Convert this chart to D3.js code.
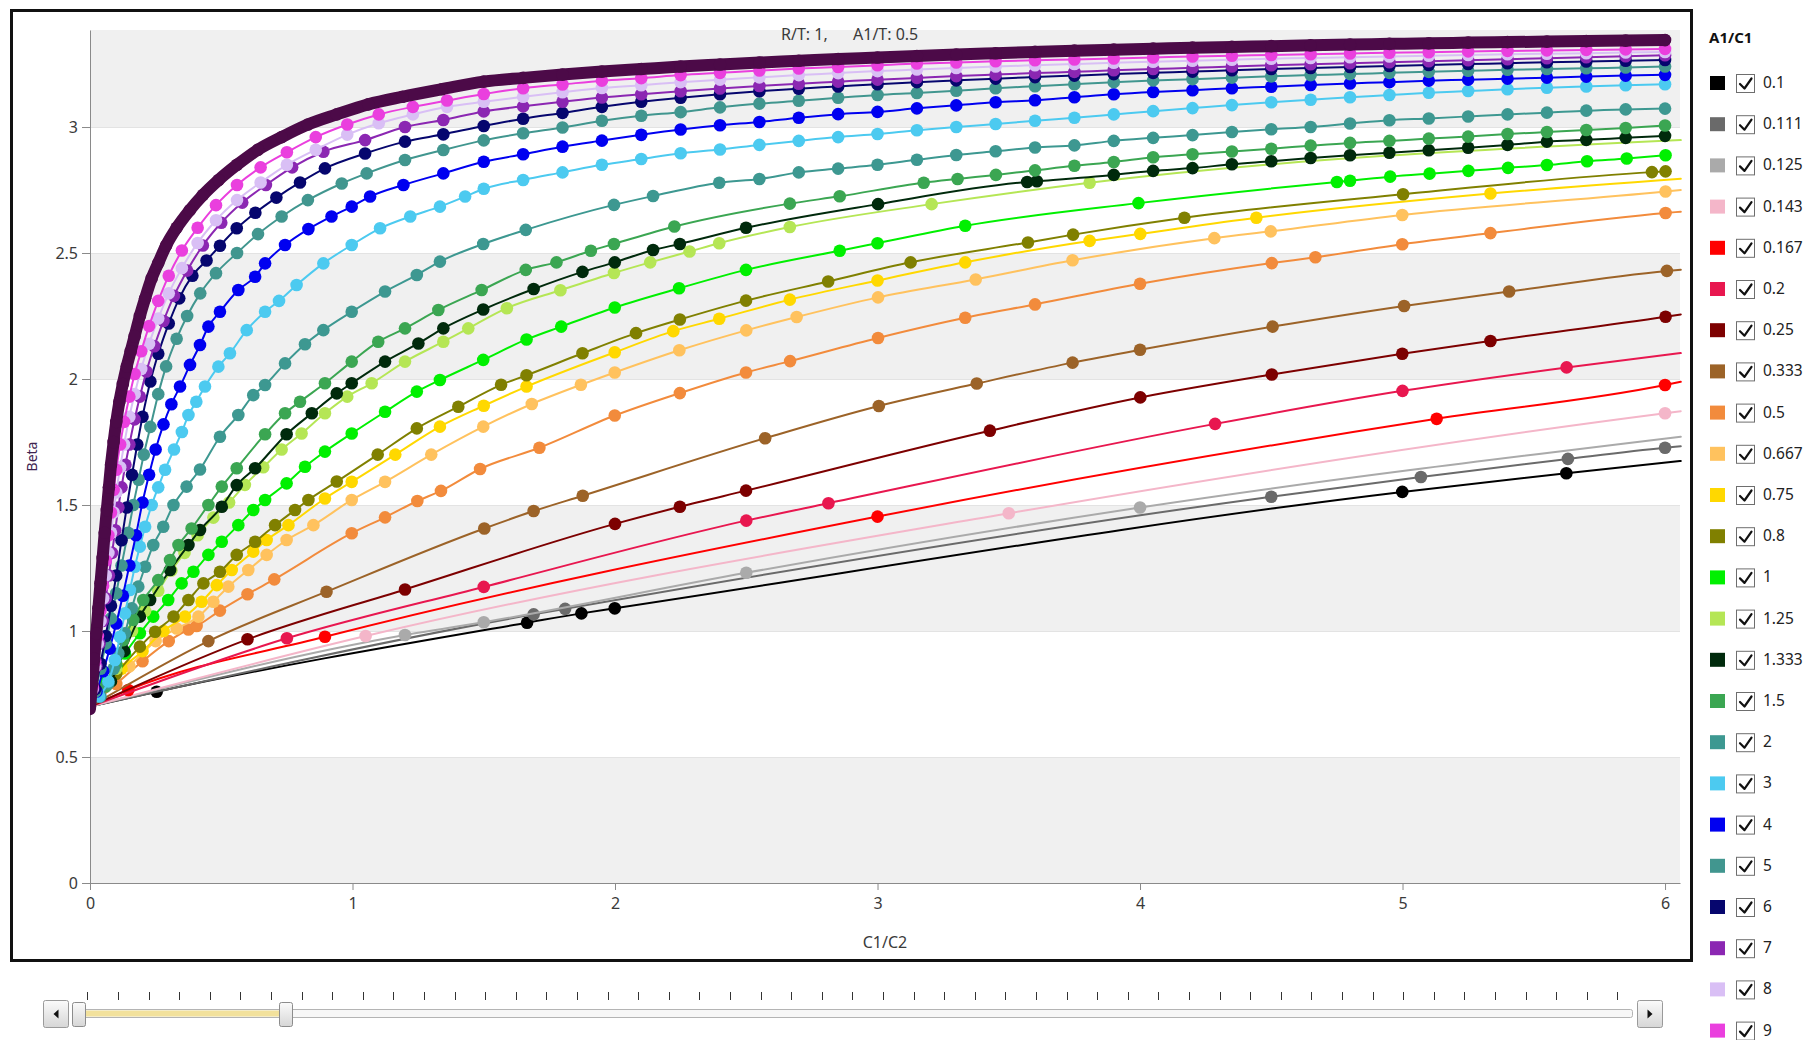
<!DOCTYPE html>
<html>
<head>
<meta charset="utf-8">
<script src="https://cdn.jsdelivr.net/npm/d3@7"></script>
<style>
  html, body { margin: 0; padding: 0; background: #ffffff; overflow: hidden; }
  svg { display: block; font-family: "Segoe UI", "Noto Sans", "Open Sans", sans-serif; }
</style>
</head>
<body>
<svg id="chart" width="1808" height="1040"></svg>
<script>
// ---- Series names (A1/C1) and colours ----
const categories = ["0.1","0.111","0.125","0.143","0.167","0.2","0.25","0.333","0.5","0.667","0.75","0.8",
                    "1","1.25","1.333","1.5","2","3","4","5","6","7","8","9","10"];
const colors = ["#000000","#6a6a6a","#aaaaaa","#f4b6c9","#ff0000","#e8174f","#7d0000","#9c6328","#f28b3c",
                "#ffc25e","#ffd800","#808000","#00f000","#b5e655","#002a0c","#3ba652","#3d9891","#4ccaf0",
                "#0000f0","#41968f","#06066e","#8b27b2","#d9bff5","#ea3fde","#4c0a48"];

// ---- Axis ticks ----
const xTicks = [0, 1, 2, 3, 4, 5, 6];
const yTicks = [0, 0.5, 1, 1.5, 2, 2.5, 3];
const shadedBands = [[0, 0.5], [1, 1.5], [2, 2.5], [3, 3.385]];

// ---- Beta against C1/C2, one array per A1/C1 value ----
const beta_0_1   = [[0,0.70],[0.254,0.759],[1.665,1.033],[1.872,1.07],[1.999,1.09],[4.999,1.552],[5.624,1.626],[6.06,1.675]];
const beta_0_111 = [[0,0.70],[1.69,1.066],[1.81,1.088],[4.5,1.533],[5.07,1.611],[5.63,1.683],[6.0,1.727],[6.06,1.733]];
const beta_0_125 = [[0,0.70],[1.2,0.984],[1.5,1.035],[2.5,1.231],[4.0,1.49],[6.06,1.771]];
const beta_0_143 = [[0,0.70],[1.05,0.98],[3.5,1.467],[6.0,1.864],[6.06,1.872]];
const beta_0_167 = [[0,0.70],[0.146,0.766],[0.895,0.977],[3.0,1.454],[5.13,1.842],[6.0,1.976],[6.06,1.989]];
const beta_0_2   = [[0,0.70],[0.75,0.971],[1.5,1.175],[2.5,1.438],[2.813,1.507],[4.286,1.822],[5.0,1.953],[5.625,2.046],[6.06,2.103]];
const beta_0_25  = [[0,0.70],[0.6,0.967],[1.2,1.165],[2.0,1.425],[2.247,1.493],[2.499,1.557],[3.428,1.795],[4.001,1.927],
                    [4.502,2.018],[4.999,2.1],[5.335,2.151],[6.002,2.247],[6.06,2.256]];
const beta_0_333 = [[0,0.70],[0.451,0.96],[0.901,1.156],[1.502,1.407],[1.69,1.476],[1.877,1.537],[2.572,1.765],[3.005,1.893],
                    [3.378,1.982],[3.743,2.065],[4.0,2.116],[4.505,2.208],[5.006,2.29],[5.406,2.347],[6.007,2.429],[6.06,2.434]];
const beta_0_5   = [[0,0.70],[0.1,0.79],[0.2,0.88],[0.3,0.96],[0.375,1.006],[0.406,1.02],[0.495,1.081],[0.6,1.146],[0.702,1.205],
                    [0.997,1.388],[1.124,1.451],[1.247,1.516],[1.337,1.556],[1.486,1.643],[1.712,1.727],[1.999,1.855],[2.247,1.944],
                    [2.499,2.026],[2.667,2.071],[3.002,2.163],[3.334,2.243],[3.6,2.296],[4.0,2.378],[4.502,2.46],[4.668,2.483],
                    [4.999,2.535],[5.335,2.579],[6.002,2.659],[6.06,2.664]];
const beta_0_667 = [[0,0.70],[0.15,0.86],[0.25,0.96],[0.33,1.01],[0.413,1.057],[0.47,1.116],[0.527,1.176],[0.603,1.242],
                    [0.673,1.302],[0.749,1.361],[0.851,1.42],[0.997,1.52],[1.124,1.592],[1.3,1.7],[1.498,1.811],[1.683,1.901],
                    [1.87,1.977],[1.999,2.026],[2.245,2.114],[2.5,2.193],[2.692,2.246],[3.002,2.324],[3.374,2.395],[3.743,2.471],
                    [4.283,2.559],[4.498,2.586],[4.999,2.651],[6.002,2.744],[6.06,2.75]];
const beta_0_75  = [[0,0.70],[0.12,0.85],[0.2,0.92],[0.28,1.0],[0.362,1.057],[0.425,1.116],[0.483,1.182],[0.54,1.242],
                    [0.622,1.315],[0.673,1.361],[0.756,1.42],[0.895,1.526],[0.997,1.592],[1.163,1.7],[1.333,1.811],[1.5,1.894],
                    [1.663,1.97],[1.999,2.106],[2.222,2.19],[2.397,2.239],[2.666,2.315],[3.0,2.391],[3.334,2.463],[3.808,2.548],
                    [4.001,2.576],[4.443,2.64],[5.335,2.736],[6.06,2.795]];
const beta_0_8   = [[0,0.70],[0.1,0.83],[0.19,0.938],[0.248,0.997],[0.318,1.057],[0.375,1.123],[0.432,1.189],[0.495,1.235],
                    [0.559,1.302],[0.629,1.354],[0.705,1.42],[0.781,1.48],[0.832,1.52],[0.94,1.593],[1.096,1.7],[1.245,1.804],
                    [1.403,1.89],[1.566,1.977],[1.663,2.015],[1.876,2.102],[2.08,2.182],[2.247,2.236],[2.499,2.311],[2.812,2.387],
                    [3.126,2.463],[3.573,2.542],[3.745,2.573],[4.169,2.64],[5.002,2.733],[5.95,2.821],[6.002,2.824]];
const beta_1     = [[0,0.70],[0.06,0.8],[0.1,0.86],[0.133,0.911],[0.19,0.991],[0.241,1.057],[0.298,1.123],[0.349,1.189],
                    [0.394,1.235],[0.451,1.302],[0.502,1.354],[0.565,1.42],[0.622,1.48],[0.667,1.52],[0.749,1.586],[0.819,1.652],
                    [0.895,1.712],[0.997,1.784],[1.124,1.87],[1.245,1.95],[1.333,1.996],[1.498,2.076],[1.663,2.157],[1.795,2.208],
                    [1.999,2.284],[2.244,2.36],[2.499,2.433],[2.856,2.509],[3.0,2.539],[3.334,2.608],[3.994,2.698],[4.75,2.782],
                    [4.8,2.787],[4.953,2.803],[5.103,2.815],[5.251,2.826],[5.402,2.838],[5.55,2.849],[5.703,2.864],[5.854,2.875],
                    [6.002,2.888]];
const beta_1_25  = [[0,0.70],[0.1,0.85],[0.16,1.0],[0.21,1.08],[0.26,1.16],[0.31,1.24],[0.36,1.31],[0.41,1.38],[0.47,1.45],
                    [0.53,1.51],[0.59,1.58],[0.66,1.65],[0.73,1.72],[0.806,1.784],[0.895,1.864],[0.98,1.93],[1.073,1.983],
                    [1.2,2.069],[1.346,2.148],[1.441,2.201],[1.588,2.281],[1.792,2.352],[1.996,2.421],[2.134,2.463],[2.284,2.506],
                    [2.397,2.539],[2.666,2.603],[3.206,2.694],[3.808,2.779],[6.06,2.948]];
const beta_1_333 = [[0,0.70],[0.08,0.8],[0.13,0.92],[0.19,1.057],[0.229,1.123],[0.305,1.242],[0.375,1.341],[0.419,1.401],
                    [0.502,1.493],[0.559,1.579],[0.629,1.646],[0.749,1.781],[0.845,1.864],[0.94,1.943],[0.997,1.983],[1.124,2.069],
                    [1.251,2.141],[1.346,2.201],[1.498,2.276],[1.69,2.357],[1.876,2.425],[1.999,2.463],[2.145,2.512],[2.247,2.536],
                    [2.499,2.6],[3.002,2.694],[3.57,2.782],[3.607,2.785],[3.9,2.81],[4.05,2.826],[4.2,2.837],[4.35,2.852],
                    [4.5,2.864],[4.65,2.877],[4.8,2.888],[4.95,2.898],[5.1,2.908],[5.25,2.918],[5.4,2.929],[5.55,2.942],
                    [5.7,2.949],[5.85,2.957],[6.0,2.965]];
const beta_1_5   = [[0,0.70],[0.06,0.78],[0.1,0.87],[0.127,0.964],[0.165,1.044],[0.203,1.123],[0.26,1.202],[0.305,1.282],
                    [0.337,1.341],[0.387,1.407],[0.451,1.5],[0.502,1.573],[0.559,1.646],[0.667,1.781],[0.743,1.864],[0.8,1.91],
                    [0.895,1.983],[0.997,2.069],[1.098,2.148],[1.2,2.201],[1.327,2.274],[1.492,2.353],[1.66,2.433],[1.777,2.463],
                    [1.908,2.509],[1.996,2.536],[2.226,2.605],[2.666,2.696],[2.856,2.725],[3.176,2.779],[3.305,2.794],[3.451,2.81],
                    [3.6,2.828],[3.75,2.846],[3.9,2.861],[4.05,2.88],[4.2,2.892],[4.35,2.903],[4.5,2.914],[4.65,2.926],[4.8,2.937],
                    [4.95,2.945],[5.1,2.954],[5.25,2.962],[5.4,2.972],[5.55,2.98],[5.7,2.988],[5.85,2.996],[6.0,3.006]];
const beta_2     = [[0,0.70],[0.04,0.74],[0.07,0.792],[0.09,0.85],[0.108,0.911],[0.133,0.991],[0.159,1.09],[0.184,1.176],
                    [0.21,1.255],[0.241,1.341],[0.279,1.414],[0.318,1.5],[0.368,1.573],[0.419,1.641],[0.495,1.771],[0.565,1.857],
                    [0.622,1.936],[0.667,1.976],[0.743,2.062],[0.819,2.138],[0.889,2.194],[0.997,2.267],[1.124,2.347],[1.245,2.413],
                    [1.333,2.466],[1.498,2.536],[1.66,2.592],[1.996,2.691],[2.145,2.726],[2.397,2.779],[2.55,2.794],[2.7,2.82],
                    [2.85,2.835],[3.0,2.85],[3.15,2.87],[3.3,2.889],[3.45,2.904],[3.6,2.919],[3.75,2.927],[3.9,2.945],[4.05,2.957],
                    [4.2,2.968],[4.35,2.98],[4.5,2.991],[4.65,3.0],[4.8,3.014],[4.95,3.027],[5.1,3.034],[5.25,3.042],[5.4,3.05],
                    [5.55,3.057],[5.7,3.065],[5.85,3.07],[6.0,3.073]];

// Steep start of the upper curves (x below 1.5)
const beta_3_start  = [[0,0.70],[0.035,0.74],[0.07,0.8],[0.095,0.885],[0.114,0.977],[0.133,1.07],[0.152,1.163],[0.171,1.255],
                       [0.19,1.335],[0.21,1.414],[0.235,1.5],[0.26,1.57],[0.286,1.64],[0.32,1.72],[0.35,1.79],[0.375,1.857],
                       [0.405,1.91],[0.438,1.97],[0.489,2.049],[0.533,2.102],[0.597,2.194],[0.667,2.267],[0.72,2.31],[0.787,2.373],
                       [0.889,2.459],[0.997,2.532],[1.105,2.598],[1.22,2.645],[1.333,2.684],[1.429,2.724]];
const beta_4_start  = [[0,0.70],[0.025,0.76],[0.05,0.84],[0.075,0.93],[0.1,1.03],[0.125,1.14],[0.15,1.26],[0.175,1.38],
                       [0.2,1.51],[0.225,1.62],[0.25,1.72],[0.28,1.82],[0.31,1.9],[0.343,1.97],[0.381,2.056],[0.419,2.135],
                       [0.451,2.208],[0.495,2.267],[0.565,2.353],[0.629,2.406],[0.667,2.459],[0.743,2.532],[0.832,2.595],
                       [0.92,2.645],[0.997,2.684],[1.067,2.724],[1.194,2.77],[1.346,2.816]];
const beta_5_start  = [[0,0.70],[0.02,0.76],[0.04,0.85],[0.06,0.95],[0.08,1.05],[0.1,1.15],[0.12,1.26],[0.145,1.39],
                       [0.165,1.5],[0.185,1.6],[0.205,1.7],[0.23,1.81],[0.26,1.94],[0.29,2.05],[0.33,2.16],[0.37,2.25],
                       [0.42,2.34],[0.48,2.42],[0.56,2.5],[0.64,2.575],[0.73,2.645],[0.83,2.71],[0.959,2.776],[1.054,2.816],
                       [1.2,2.869],[1.346,2.909]];
const beta_6_start  = [[0,0.70],[0.02,0.77],[0.04,0.87],[0.06,0.98],[0.08,1.1],[0.1,1.22],[0.12,1.36],[0.14,1.49],
                       [0.16,1.62],[0.18,1.74],[0.2,1.85],[0.23,1.99],[0.26,2.1],[0.3,2.22],[0.34,2.32],[0.39,2.41],
                       [0.444,2.47],[0.495,2.529],[0.559,2.598],[0.63,2.66],[0.71,2.72],[0.8,2.78],[0.895,2.836],[1.048,2.895],
                       [1.2,2.942],[1.346,2.971]];
const beta_7_start  = [[0,0.70],[0.012,0.77],[0.024,0.86],[0.036,0.95],[0.048,1.04],[0.06,1.13],[0.072,1.22],[0.084,1.31],
                       [0.096,1.4],[0.108,1.49],[0.12,1.57],[0.135,1.66],[0.15,1.74],[0.17,1.84],[0.19,1.93],[0.215,2.03],
                       [0.245,2.13],[0.28,2.23],[0.32,2.33],[0.37,2.43],[0.43,2.53],[0.5,2.62],[0.58,2.7],[0.67,2.77],
                       [0.77,2.84],[0.889,2.902],[1.048,2.948],[1.2,3.0],[1.346,3.028]];
const beta_8_start  = [[0,0.70],[0.01,0.77],[0.02,0.86],[0.03,0.95],[0.04,1.04],[0.05,1.13],[0.06,1.22],[0.07,1.31],
                       [0.08,1.39],[0.09,1.47],[0.1,1.55],[0.115,1.65],[0.13,1.74],[0.15,1.85],[0.17,1.94],[0.195,2.04],
                       [0.225,2.14],[0.26,2.24],[0.3,2.34],[0.35,2.44],[0.41,2.54],[0.48,2.63],[0.56,2.71],[0.65,2.78],
                       [0.75,2.85],[0.86,2.91],[0.98,2.97],[1.1,3.015],[1.23,3.05],[1.36,3.08]];
const beta_9_start  = [[0,0.70],[0.01,0.78],[0.02,0.88],[0.03,0.98],[0.04,1.08],[0.05,1.18],[0.06,1.28],[0.07,1.38],
                       [0.08,1.47],[0.09,1.56],[0.1,1.64],[0.115,1.74],[0.13,1.83],[0.15,1.93],[0.17,2.02],[0.195,2.11],
                       [0.225,2.21],[0.26,2.31],[0.3,2.41],[0.35,2.51],[0.41,2.6],[0.48,2.69],[0.56,2.77],[0.65,2.84],
                       [0.75,2.9],[0.86,2.96],[0.98,3.01],[1.1,3.05],[1.23,3.08],[1.36,3.105]];
const beta_10_start = [[0,0.69],[0.008,0.79],[0.016,0.89],[0.024,0.99],[0.032,1.09],[0.04,1.19],[0.048,1.29],[0.056,1.39],
                       [0.064,1.48],[0.072,1.57],[0.08,1.66],[0.09,1.75],[0.1,1.83],[0.112,1.91],[0.125,1.98],[0.14,2.05],
                       [0.155,2.11],[0.17,2.17],[0.19,2.25],[0.21,2.32],[0.235,2.4],[0.26,2.46],[0.29,2.53],[0.33,2.6],
                       [0.38,2.67],[0.43,2.73],[0.49,2.79],[0.56,2.85],[0.64,2.91],[0.73,2.96],[0.83,3.01],[0.94,3.05],
                       [1.06,3.09],[1.19,3.12],[1.34,3.15]];

// Upper curves from C1/C2 = 1.5 to 6, sampled every 0.15
const c1c2Upper = [1.5,1.65,1.8,1.95,2.1,2.25,2.4,2.55,2.7,2.85,3.0,3.15,3.3,3.45,3.6,3.75,
                   3.9,4.05,4.2,4.35,4.5,4.65,4.8,4.95,5.1,5.25,5.4,5.55,5.7,5.85,6.0];
const beta_3_upper  = [2.755,2.79,2.82,2.85,2.873,2.896,2.911,2.929,2.945,2.96,2.972,2.987,3.0,3.012,3.025,3.037,
                       3.05,3.063,3.075,3.087,3.098,3.108,3.118,3.127,3.136,3.143,3.15,3.156,3.161,3.166,3.17];
const beta_4_upper  = [2.862,2.892,2.922,2.946,2.969,2.99,3.007,3.02,3.037,3.051,3.06,3.074,3.086,3.098,3.106,3.118,
                       3.13,3.139,3.146,3.154,3.16,3.167,3.173,3.178,3.184,3.188,3.192,3.196,3.2,3.204,3.207];
const beta_5_upper  = [2.947,2.975,2.998,3.025,3.045,3.059,3.078,3.093,3.104,3.116,3.127,3.135,3.144,3.154,3.162,3.17,
                       3.178,3.185,3.19,3.196,3.201,3.206,3.21,3.215,3.219,3.223,3.227,3.23,3.233,3.236,3.24];
const beta_6_upper  = [3.004,3.033,3.056,3.08,3.1,3.116,3.13,3.142,3.152,3.161,3.17,3.178,3.185,3.192,3.198,3.204,
                       3.21,3.215,3.22,3.225,3.23,3.234,3.238,3.242,3.246,3.25,3.253,3.257,3.26,3.263,3.266];
const beta_7_upper  = [3.062,3.082,3.1,3.117,3.13,3.142,3.153,3.163,3.172,3.18,3.188,3.195,3.202,3.208,3.214,3.219,
                       3.225,3.23,3.235,3.24,3.245,3.249,3.253,3.257,3.261,3.265,3.269,3.273,3.277,3.281,3.285];
const beta_8_upper  = [3.1,3.12,3.138,3.155,3.166,3.178,3.188,3.197,3.206,3.214,3.222,3.228,3.234,3.24,3.245,3.25,
                       3.255,3.259,3.263,3.267,3.271,3.274,3.277,3.28,3.283,3.286,3.289,3.291,3.293,3.296,3.298];
const beta_9_upper  = [3.131,3.154,3.169,3.184,3.194,3.206,3.215,3.224,3.232,3.238,3.245,3.252,3.256,3.261,3.265,3.268,
                       3.272,3.276,3.28,3.283,3.286,3.289,3.292,3.295,3.297,3.3,3.302,3.304,3.306,3.308,3.31];
const beta_10_upper = [3.18,3.195,3.208,3.22,3.23,3.24,3.248,3.256,3.263,3.27,3.276,3.282,3.288,3.293,3.298,3.303,
                       3.307,3.311,3.315,3.318,3.321,3.324,3.327,3.33,3.332,3.335,3.337,3.339,3.341,3.343,3.345];

// Slider below the chart (visible range of the parameter sweep)
const sliderSteps = 50;
const sliderSelection = [-0.27, 6.5];

// ---- Assemble series ----
const joinUpper = (start, upper) => start.concat(c1c2Upper.map((c, i) => [c, upper[i]]));
const seriesPoints = [
  beta_0_1, beta_0_111, beta_0_125, beta_0_143, beta_0_167, beta_0_2, beta_0_25, beta_0_333, beta_0_5,
  beta_0_667, beta_0_75, beta_0_8, beta_1, beta_1_25, beta_1_333, beta_1_5, beta_2,
  joinUpper(beta_3_start, beta_3_upper), joinUpper(beta_4_start, beta_4_upper),
  joinUpper(beta_5_start, beta_5_upper), joinUpper(beta_6_start, beta_6_upper),
  joinUpper(beta_7_start, beta_7_upper), joinUpper(beta_8_start, beta_8_upper),
  joinUpper(beta_9_start, beta_9_upper), joinUpper(beta_10_start, beta_10_upper)
];
const series = categories.map((name, i) => ({ name, color: colors[i], points: seriesPoints[i] }));

// ---- Drawing ----
const W = 1808, H = 1040;
const svg = d3.select("#chart");
const plot = { left: 90, right: 1680, top: 30, bottom: 883 };
const x = d3.scaleLinear().domain([0, 6.057]).range([plot.left, plot.right]);
const y = d3.scaleLinear().domain([0, 3.385]).range([plot.bottom, plot.top]);

// outer frame
svg.append("rect").attr("x", 11.5).attr("y", 10.5).attr("width", 1680).attr("height", 950)
  .attr("fill", "#ffffff").attr("stroke", "#111111").attr("stroke-width", 3);

// shaded horizontal bands
svg.append("g").selectAll("rect").data(shadedBands).join("rect")
  .attr("x", plot.left).attr("width", plot.right - plot.left)
  .attr("y", d => y(d[1])).attr("height", d => y(d[0]) - y(d[1]))
  .attr("fill", "#f0f0f0");
svg.append("g").selectAll("line").data(yTicks.filter(v => v > 0)).join("line")
  .attr("x1", plot.left).attr("x2", plot.right)
  .attr("y1", d => Math.round(y(d)) + 0.5).attr("y2", d => Math.round(y(d)) + 0.5)
  .attr("stroke", "#e3e3e3").attr("stroke-width", 1);

// axes
const axisColor = "#8a8a8a";
const gx = svg.append("g").attr("transform", `translate(0,${plot.bottom})`)
  .call(d3.axisBottom(x).tickValues(xTicks).tickFormat(d => String(d)).tickSize(7).tickSizeOuter(0).tickPadding(8));
const gy = svg.append("g").attr("transform", `translate(${plot.left},0)`)
  .call(d3.axisLeft(y).tickValues(yTicks).tickFormat(d => String(d)).tickSize(8).tickSizeOuter(0).tickPadding(4));
[gx, gy].forEach(g => {
  g.select(".domain").attr("stroke", axisColor);
  g.selectAll(".tick line").attr("stroke", axisColor);
  g.selectAll(".tick text").attr("fill", "#3a3a3a").style("font-size", "16px")
    .style("font-family", "'Segoe UI','Noto Sans','Open Sans',sans-serif");
});

// axis titles and chart caption
svg.append("text").attr("x", (plot.left + plot.right) / 2).attr("y", 948).attr("text-anchor", "middle")
  .attr("fill", "#3a3a3a").style("font-size", "16px").text("C1/C2");
svg.append("text").attr("transform", `translate(37,${(plot.top + plot.bottom) / 2}) rotate(-90)`)
  .attr("text-anchor", "middle").attr("fill", "#3e2450").style("font-size", "14px").text("Beta");
svg.append("text").attr("x", 781).attr("y", 40).attr("fill", "#3a3a3a").style("font-size", "16px").text("R/T: 1,");
svg.append("text").attr("x", 853).attr("y", 40).attr("fill", "#3a3a3a").style("font-size", "16px").text("A1/T: 0.5");

// curves with their sample markers
svg.append("clipPath").attr("id", "plot-clip").append("rect")
  .attr("x", plot.left).attr("y", plot.top - 8).attr("width", plot.right - plot.left + 2)
  .attr("height", plot.bottom - plot.top + 8);
const layer = svg.append("g").attr("clip-path", "url(#plot-clip)");
const line = d3.line().x(d => x(d[0])).y(d => y(d[1])).curve(d3.curveMonotoneX);
series.forEach((s, i) => {
  const g = layer.append("g");
  const dense = i === series.length - 1;
  g.append("path").datum(s.points).attr("d", line)
    .attr("fill", "none").attr("stroke", s.color)
    .attr("stroke-width", dense ? 12 : 2).attr("stroke-linejoin", "round").attr("stroke-linecap", "round");
  g.selectAll("circle").data(s.points.filter(p => p[0] > 0 && p[0] < 6.05)).join("circle")
    .attr("cx", d => x(d[0])).attr("cy", d => y(d[1])).attr("r", 6.3).attr("fill", s.color);
});

// legend panel: rows that fit in the window
const legendTop = 83, legendStep = 41.2;
const legendRows = series.filter((d, i) => legendTop + legendStep * i + 8 < H);
const legend = svg.append("g");
legend.append("text").attr("x", 1709).attr("y", 43).attr("fill", "#111")
  .style("font-size", "15px").style("font-weight", "bold").text("A1/C1");
const rows = legend.selectAll("g.row").data(legendRows).join("g").attr("class", "row")
  .attr("transform", (d, i) => `translate(0,${legendTop + legendStep * i})`);
rows.append("rect").attr("x", 1710).attr("y", -7).attr("width", 15).attr("height", 14).attr("fill", d => d.color);
rows.append("rect").attr("x", 1736.5).attr("y", -8.5).attr("width", 18).attr("height", 18)
  .attr("fill", "#ffffff").attr("stroke", "#6e6e6e").attr("stroke-width", 1);
rows.append("path").attr("d", "M1740,1 L1744.5,5.5 L1751.5,-4.5").attr("fill", "none")
  .attr("stroke", "#111").attr("stroke-width", 2.2).attr("stroke-linecap", "round").attr("stroke-linejoin", "round");
rows.append("text").attr("x", 1763).attr("y", 5).attr("fill", "#222").style("font-size", "15.5px").text(d => d.name);

// slider
const defs = svg.append("defs");
const grad = defs.append("linearGradient").attr("id", "btn-grad").attr("x1", 0).attr("y1", 0).attr("x2", 0).attr("y2", 1);
grad.append("stop").attr("offset", "0%").attr("stop-color", "#fbfbfb");
grad.append("stop").attr("offset", "100%").attr("stop-color", "#d6d6d6");
const s = d3.scaleLinear().domain([0, sliderSteps]).range([87.3, 1617.4]);
const slider = svg.append("g");
slider.selectAll("line.tick").data(d3.range(sliderSteps + 1)).join("line").attr("class", "tick")
  .attr("x1", d => Math.round(s(d)) + 0.5).attr("x2", d => Math.round(s(d)) + 0.5)
  .attr("y1", 992).attr("y2", 1000).attr("stroke", "#333").attr("stroke-width", 1);
slider.append("rect").attr("x", 78.5).attr("y", 1009.5).attr("width", 1554).attr("height", 8).attr("rx", 2)
  .attr("fill", "#f7f7f7").attr("stroke", "#b4b4b4");
slider.append("rect").attr("x", s(sliderSelection[0])).attr("y", 1010.5)
  .attr("width", s(sliderSelection[1]) - s(sliderSelection[0])).attr("height", 6).attr("fill", "#f2e19c");
sliderSelection.forEach(v => {
  slider.append("rect").attr("x", Math.round(s(v)) - 6.5).attr("y", 1002.5).attr("width", 13).attr("height", 24).attr("rx", 2)
    .attr("fill", "url(#btn-grad)").attr("stroke", "#8c8c8c");
});
// step buttons: left arrow on the left, right arrow on the right
[[43.5, -1], [1637.5, 1]].forEach(([bx, dir]) => {
  slider.append("rect").attr("x", bx).attr("y", 1000.5).attr("width", 25).attr("height", 27).attr("rx", 2)
    .attr("fill", "url(#btn-grad)").attr("stroke", "#9a9a9a");
  const cx = bx + 12.5, cy = 1014;
  slider.append("path").attr("d", `M${cx + 2.5 * dir},${cy} L${cx - 2.5 * dir},${cy - 4.5} L${cx - 2.5 * dir},${cy + 4.5} Z`)
    .attr("fill", "#111");
});
</script>
</body>
</html>
